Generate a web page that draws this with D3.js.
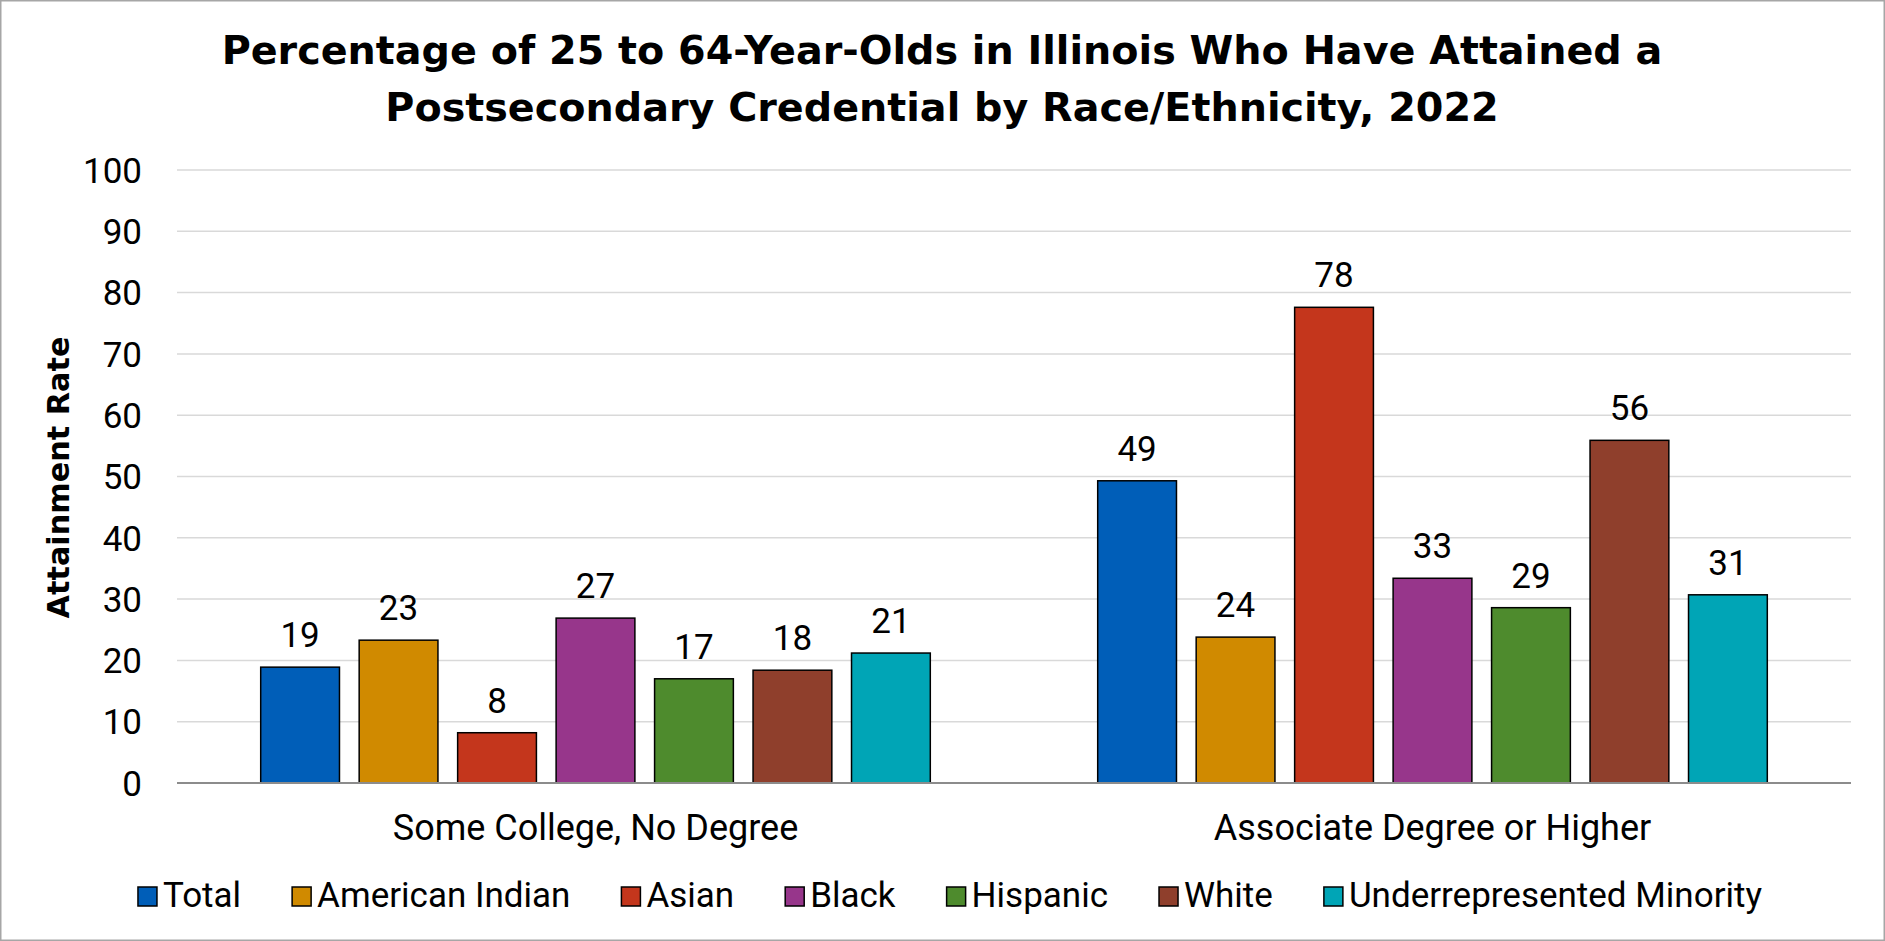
<!DOCTYPE html>
<html><head><meta charset="utf-8">
<script src="https://cdn.jsdelivr.net/npm/d3@7"></script>
<style>
html,body{margin:0;padding:0;background:#fff;}
svg{display:block;font-family:Roboto,"Open Sans",sans-serif;}
</style></head>
<body>
<svg id="chart" width="1885" height="941"></svg>
<script>
// ---- data ----
const titleLines = ["Percentage of 25 to 64-Year-Olds in Illinois Who Have Attained a",
                    "Postsecondary Credential by Race/Ethnicity, 2022"];
const categories = ["Some College, No Degree", "Associate Degree or Higher"];
const seriesNames = ["Total", "American Indian", "Asian", "Black", "Hispanic", "White", "Underrepresented Minority"];
const someCollege = [18.9, 23.3, 8.2, 26.9, 17.0, 18.4, 21.2];
const associatePlus = [49.3, 23.8, 77.6, 33.4, 28.6, 55.9, 30.7];
const seriesColors = ["#005EB8", "#D08A00", "#C4361C", "#97368B", "#4E8B2D", "#8F3F2C", "#00A5B6"];
const yTicks = [0, 10, 20, 30, 40, 50, 60, 70, 80, 90, 100];
const yLabel = "Attainment Rate";

const values = [someCollege, associatePlus];

const svg = d3.select("#chart");
const W = 1885, H = 941;
const plot = {left: 177, right: 1851, top: 170, bottom: 783};

function fitWidth(sel, target) {
  sel.each(function() {
    const t = d3.select(this);
    const fs = +t.attr("font-size");
    const w = this.getComputedTextLength();
    if (w > 0) t.attr("font-size", (fs * target / w).toFixed(2));
  });
}

svg.append("rect").attr("x", 0.75).attr("y", 0.75).attr("width", W - 1.5).attr("height", H - 1.5)
  .attr("fill", "#fff").attr("stroke", "#a6a6a6").attr("stroke-width", 1.5);

const y = d3.scaleLinear().domain([0, 100]).range([plot.bottom, plot.top]);
const x0 = d3.scaleBand().domain(categories).range([plot.left, plot.right]).paddingInner(0.2).paddingOuter(0.1);
const x1 = d3.scaleBand().domain(seriesNames).range([0, x0.bandwidth()]).paddingInner(0.2).paddingOuter(0);

// y axis labels
const yAxis = d3.axisLeft(y).tickValues(yTicks).tickSize(0).tickPadding(0).tickFormat(d3.format("d"));
const gy = svg.append("g").attr("transform", `translate(${plot.left},0)`).call(yAxis);
gy.select(".domain").remove();
gy.selectAll("text").attr("x", -35).attr("dy", "0.35em").attr("font-size", 35).attr("fill", "#000")
  .attr("font-family", "Roboto");

// gridlines
svg.append("g").selectAll("line").data(yTicks.filter(d => d > 0)).join("line")
  .attr("x1", plot.left).attr("x2", plot.right)
  .attr("y1", d => y(d)).attr("y2", d => y(d))
  .attr("stroke", "#d9d9d9").attr("stroke-width", 1.5);

// bars
const groups = svg.append("g").selectAll("g").data(categories).join("g")
  .attr("transform", d => `translate(${x0(d)},0)`);
groups.each(function(cat, ci) {
  const g = d3.select(this);
  const rows = seriesNames.map((s, i) => ({s, v: values[ci][i], c: seriesColors[i]}));
  g.selectAll("rect").data(rows).join("rect")
    .attr("x", d => x1(d.s)).attr("width", x1.bandwidth())
    .attr("y", d => y(d.v)).attr("height", d => y(0) - y(d.v))
    .attr("fill", d => d.c).attr("stroke", "#000").attr("stroke-width", 1.5);
  g.selectAll("text").data(rows).join("text")
    .attr("x", d => x1(d.s) + x1.bandwidth() / 2).attr("y", d => y(d.v) - 20)
    .attr("text-anchor", "middle").attr("font-size", 35).attr("fill", "#000")
    .text(d => Math.round(d.v));
});

// zero line
svg.append("line").attr("x1", plot.left).attr("x2", plot.right)
  .attr("y1", y(0)).attr("y2", y(0)).attr("stroke", "#8c8c8c").attr("stroke-width", 2);

// category labels
svg.append("g").selectAll("text").data(categories).join("text")
  .attr("x", d => x0(d) + x0.bandwidth() / 2).attr("y", 840)
  .attr("text-anchor", "middle").attr("font-size", 36).attr("fill", "#000").text(d => d);

// y label
const yl = svg.append("text").attr("transform", `translate(69,${(plot.top + plot.bottom) / 2 + 1}) rotate(-90)`)
  .attr("text-anchor", "middle").attr("font-size", 30).attr("font-weight", "bold").attr("fill", "#000")
  .attr("font-family", "DejaVu Sans")
  .text(yLabel);
fitWidth(yl, 282);

// title
const tt = svg.append("g").selectAll("text").data(titleLines).join("text")
  .attr("x", 942).attr("y", (d, i) => 64 + i * 57)
  .attr("text-anchor", "middle").attr("font-size", 37).attr("font-weight", "bold").attr("fill", "#000")
  .attr("font-family", "DejaVu Sans")
  .text(d => d);
fitWidth(tt.filter((d, i) => i === 0), 1441);
tt.filter((d, i) => i === 1).attr("font-size", tt.filter((d, i) => i === 0).attr("font-size"));

// legend
const lg = svg.append("g");
const items = lg.selectAll("g").data(seriesNames).join("g");
items.append("rect").attr("width", 19).attr("height", 19).attr("y", 887)
  .attr("fill", (d, i) => seriesColors[i]).attr("stroke", "#000").attr("stroke-width", 1.5);
items.append("text").attr("x", 25).attr("y", 907).attr("font-size", 35).attr("fill", "#000").text(d => d);
let cx = 0;
const offsets = [];
items.each(function() {
  offsets.push(cx);
  const w = d3.select(this).select("text").node().getComputedTextLength();
  cx += 25 + w + 51;
});
const totalW = cx - 51;
const startX = 950 - totalW / 2;
items.attr("transform", (d, i) => `translate(${startX + offsets[i]},0)`);
items.select("rect").attr("x", 0);
</script>
</body></html>
